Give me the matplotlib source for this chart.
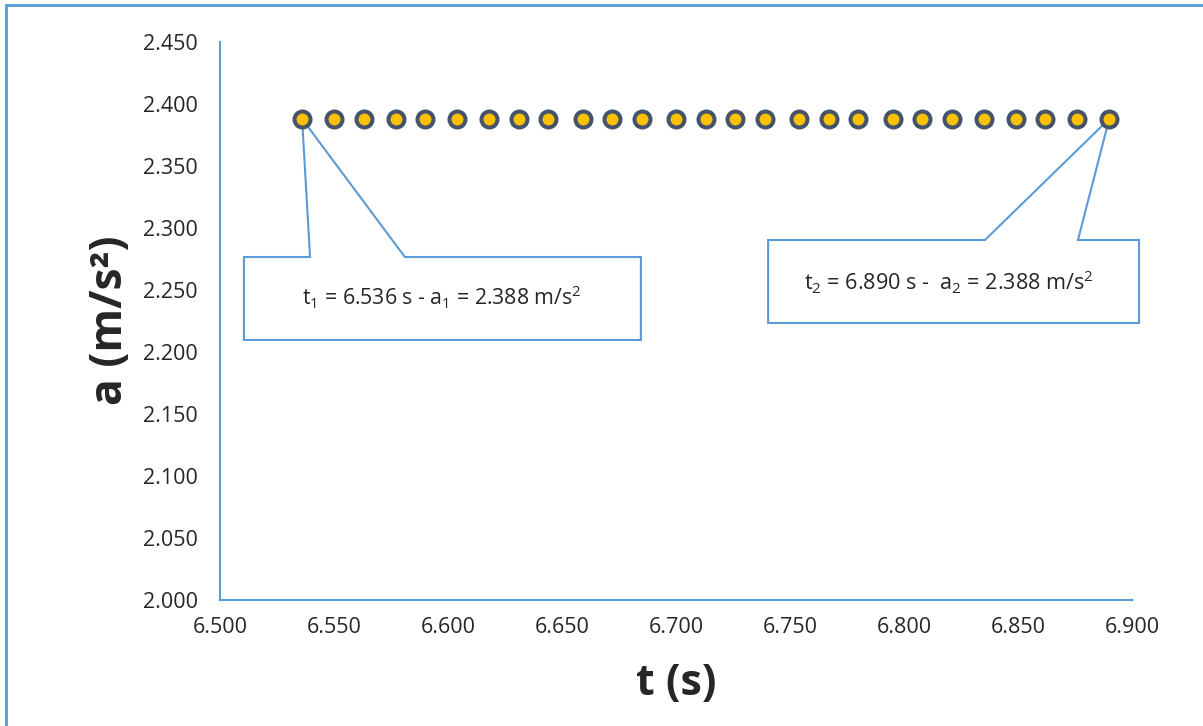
import numpy as np
import matplotlib.pyplot as plt
from matplotlib.patches import Polygon, Rectangle

# time samples (s) and the constant acceleration (m/s^2)
t_vals = [6.536, 6.550, 6.563, 6.577, 6.590, 6.604, 6.618, 6.631, 6.644,
          6.659, 6.672, 6.685, 6.700, 6.713, 6.726, 6.739, 6.754, 6.767,
          6.780, 6.795, 6.808, 6.821, 6.835, 6.849, 6.862, 6.876, 6.890]
a_vals = [2.388] * len(t_vals)

x_ticks = np.arange(6.500, 6.9001, 0.050)
y_ticks = np.arange(2.000, 2.4501, 0.050)

label_1 = r't$_1$ = 6.536 s - a$_1$ = 2.388 m/s$^2$'
label_2 = r't$_2$ = 6.890 s -  a$_2$ = 2.388 m/s$^2$'

blue = '#5B9BD5'
text_col = '#262626'

plt.rcParams['font.family'] = ['Open Sans', 'DejaVu Sans']
plt.rcParams['mathtext.default'] = 'regular'


def callout(ax, tip, box, base):
    # box = (x0, x1, y_bottom, y_top), base = pointer base x positions on top edge
    x0, x1, yb, yt = box
    pts = [(x0, yt), (base[0], yt), tip, (base[1], yt), (x1, yt), (x1, yb), (x0, yb)]
    ax.add_patch(Polygon(pts, closed=True, facecolor='white', edgecolor=blue,
                         linewidth=1.5, clip_on=False, zorder=4))


def plot_chart():
    fig = plt.figure(figsize=(12.03, 7.26), dpi=100)
    fig.patches.append(Rectangle((6 / 1203, -0.1), 1.2, 1 - 4.5 / 726 + 0.1,
                                 transform=fig.transFigure, fill=False,
                                 edgecolor=blue, linewidth=2))
    ax = fig.add_axes([220 / 1203, 1 - 600 / 726, 912 / 1203, 558 / 726])

    ax.plot(t_vals, a_vals, linestyle='none', marker='o', markersize=11.5,
            markerfacecolor='#FFC000', markeredgecolor='#44546A',
            markeredgewidth=2.9, zorder=5)

    ax.set_xlim(6.5, 6.9)
    ax.set_ylim(2.0, 2.45)
    ax.set_xticks(x_ticks)
    ax.set_yticks(y_ticks)
    ax.set_xticklabels([f'{v:.3f}' for v in x_ticks])
    ax.set_yticklabels([f'{v:.3f}' for v in y_ticks])
    ax.tick_params(length=0, labelsize=15.5, colors=text_col)
    ax.tick_params(axis='y', pad=16)
    ax.tick_params(axis='x', pad=12)

    for side in ['top', 'right']:
        ax.spines[side].set_visible(False)
    for side in ['left', 'bottom']:
        ax.spines[side].set_color(blue)
        ax.spines[side].set_linewidth(1.5)

    ax.set_xlabel('t (s)', fontsize=31, fontweight='bold', color=text_col, va='center')
    ax.xaxis.set_label_coords(0.5, -0.149)
    ax.set_ylabel('a (m/s²)', fontsize=32, fontweight='bold', color=text_col, va='center')
    ax.yaxis.set_label_coords(-0.1206, 0.502)

    # callouts
    callout(ax, (t_vals[0], a_vals[0]), (6.5105, 6.6846, 2.2097, 2.2766), (6.5395, 6.5811))
    ax.text(6.5971, 2.2440, label_1, fontsize=15.3, color=text_col,
            ha='center', va='center', zorder=6)
    callout(ax, (t_vals[-1], a_vals[-1]), (6.7404, 6.9031, 2.2234, 2.2903), (6.8355, 6.8763))
    ax.text(6.8197, 2.2560, label_2, fontsize=15.6, color=text_col,
            ha='center', va='center', zorder=6, clip_on=False)

    fig.savefig('out.png', dpi=100)


if __name__ == "__main__":
    plot_chart()
